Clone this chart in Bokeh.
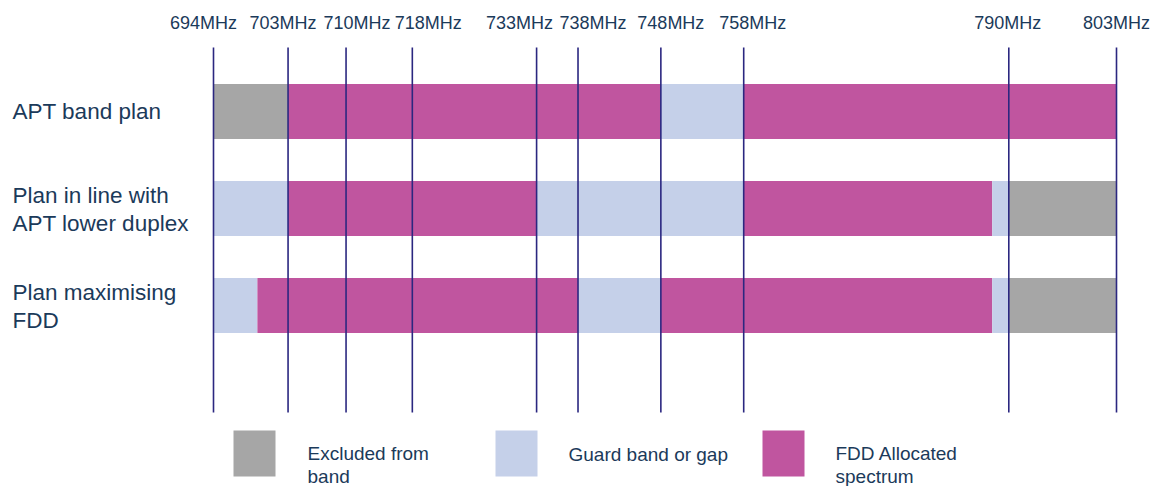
from bokeh.plotting import figure
from bokeh.models import Range1d, ColumnDataSource
from bokeh.core.properties import value
from bokeh.embed import file_html
from bokeh.resources import INLINE

# Band edges shown as reference lines (MHz)
tick_mhz = [694, 703, 710, 718, 733, 738, 748, 758, 790, 803]
tick_labels = [f"{t}MHz" for t in tick_mhz]

# Plans (rows) and their spectrum blocks
plans = ["APT band plan", "Plan in line with\nAPT lower duplex", "Plan maximising\nFDD"]
block_row = [0, 0, 0, 0,
             1, 1, 1, 1, 1, 1,
             2, 2, 2, 2, 2, 2]
block_start = [694, 703, 748, 758,
               694, 703, 733, 758, 788, 790,
               694, 699.3, 738, 748, 788, 790]
block_end = [703, 748, 758, 803,
             703, 733, 758, 788, 790, 803,
             699.3, 738, 748, 788, 790, 803]
block_kind = ["excluded", "fdd", "guard", "fdd",
              "guard", "fdd", "guard", "fdd", "guard", "excluded",
              "guard", "fdd", "guard", "fdd", "guard", "excluded"]

legend_kinds = ["excluded", "guard", "fdd"]
legend_labels = ["Excluded from\nband", "Guard band or gap", "FDD Allocated\nspectrum"]

colors = {"excluded": "#A6A6A6", "guard": "#C5D0E9", "fdd": "#C0559F"}
text_color = "#1B3A5A"
line_color = "#2B2780"
font = "Liberation Sans"

W, H = 1158, 486
# horizontal scale: 694 MHz at px 213, 803 MHz at px 1116
px_per_mhz = (1116 - 213) / (803 - 694)
x0 = 694 - 213 / px_per_mhz
x1 = 803 + (W - 1116) / px_per_mhz
# vertical scale: rows 97 px apart, first row centred at px 111
row_px = 97.0
def ypx(px):
    return (px - 111) / row_px

p = figure(width=W, height=H, output_backend="svg", toolbar_location=None,
           x_range=Range1d(x0, x1), y_range=Range1d(ypx(H), ypx(0)),
           min_border=0)
p.axis.visible = False
p.grid.visible = False
p.outline_line_color = None
p.background_fill_color = "white"
p.border_fill_color = "white"

src = ColumnDataSource(dict(y=block_row, left=block_start, right=block_end,
                            color=[colors[k] for k in block_kind]))
p.hbar(y="y", left="left", right="right", height=55 / row_px, color="color",
       source=src, line_color=None)

# vertical reference lines and their labels (labels nudged apart so they don't collide)
p.segment(x0=tick_mhz, x1=tick_mhz, y0=[ypx(47)] * len(tick_mhz),
          y1=[ypx(412)] * len(tick_mhz), line_color=line_color, line_width=1.6)
label_nudge_px = [-10, -5, 11, 16, -17, 15, 10, 9, -1, 0]
label_x = [t + d / px_per_mhz for t, d in zip(tick_mhz, label_nudge_px)]
p.text(x=label_x, y=[ypx(22)] * len(tick_mhz), text=tick_labels,
       text_align="center", text_baseline="middle", text_font=value(font),
       text_font_size="18px", text_color=text_color)

# row labels
p.text(x=[x0 + 12 / px_per_mhz] * len(plans), y=[0, ypx(209), ypx(306)], text=plans,
       text_align="left", text_baseline="middle", text_font=value(font),
       text_font_size="22.5px", text_color=text_color, text_line_height=1.1)

# legend
sw_left = [233, 495, 762]
sw_w = 42
lx = [x0 + (l + sw_w / 2) / px_per_mhz for l in sw_left]
p.rect(x=lx, y=[ypx(453)] * 3, width=sw_w / px_per_mhz, height=46 / row_px,
       color=[colors[k] for k in legend_kinds], line_color=None)
tx = [x0 + t / px_per_mhz for t in [307, 568, 835]]
ty = [ypx(464.5), ypx(454), ypx(464.5)]
p.text(x=tx, y=ty, text=legend_labels, text_align="left", text_baseline="middle",
       text_font=value(font), text_font_size="19px", text_color=text_color,
       text_line_height=1.06)

open("out.html", "w").write(file_html(p, INLINE))
